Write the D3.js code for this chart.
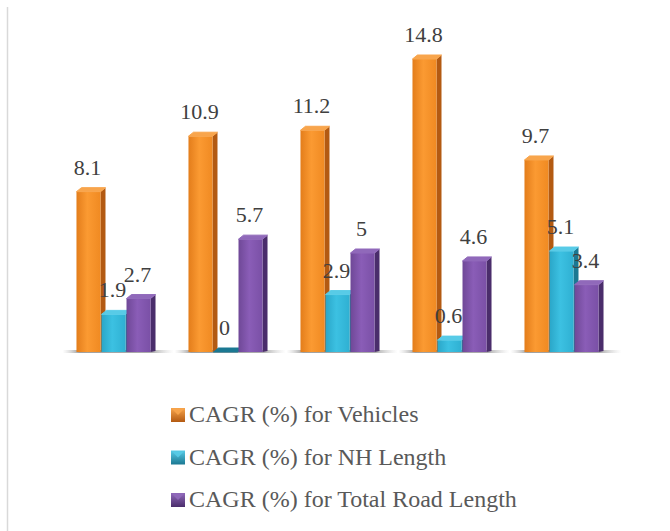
<!DOCTYPE html>
<html>
<head>
<meta charset="utf-8">
<script src="https://cdn.jsdelivr.net/npm/d3@7/dist/d3.min.js"></script>
<style>
  body { margin: 0; background: #fff; }
  svg { display: block; }
</style>
</head>
<body>
<div class="content"></div>
<script>
// chart values (categories are not labelled in the original)
var categories = ["G1", "G2", "G3", "G4", "G5"];
var seriesNames = ["CAGR (%) for Vehicles", "CAGR (%) for NH Length", "CAGR (%) for Total Road Length"];
var vehicles = [8.1, 10.9, 11.2, 14.8, 9.7];
var nhLength = [1.9, 0, 2.9, 0.6, 5.1];
var roadLength = [2.7, 5.7, 5, 4.6, 3.4];

var seriesValues = [vehicles, nhLength, roadLength];

// colours per series: front light / front mid / side / top
var palette = [
    {front: ["#e37d1b", "#fb9a32", "#f08a22"], side: "#b35a12", top: "#f8a54c"},
    {front: ["#2aa6c8", "#3cc1e2", "#2fb0d2"], side: "#1b7892", top: "#58cbe7"},
    {front: ["#6f4897", "#8a5db7", "#7a50a6"], side: "#4a2d6b", top: "#9069ba"}
];

var width = 670, height = 531;
var baseline = 352;
var depth = 5, rise = 4;

var svg = d3.select(".content")
    .append("svg")
    .attr("width", width)
    .attr("height", height);

var defs = svg.append("defs");

palette.forEach(function(p, i) {
    var g = defs.append("linearGradient")
        .attr("id", "front" + i)
        .attr("x1", "0").attr("x2", "1").attr("y1", "0").attr("y2", "0");
    g.append("stop").attr("offset", "0%").attr("stop-color", p.front[0]);
    g.append("stop").attr("offset", "45%").attr("stop-color", p.front[1]);
    g.append("stop").attr("offset", "100%").attr("stop-color", p.front[2]);

    var lg = defs.append("linearGradient")
        .attr("id", "leg" + i)
        .attr("x1", "0").attr("x2", "0").attr("y1", "0").attr("y2", "1");
    lg.append("stop").attr("offset", "0%").attr("stop-color", p.top);
    lg.append("stop").attr("offset", "100%").attr("stop-color", p.side);
});

var shadow = defs.append("linearGradient")
    .attr("id", "floor")
    .attr("x1", "0").attr("x2", "1").attr("y1", "0").attr("y2", "0");
shadow.append("stop").attr("offset", "0%").attr("stop-color", "#bbb").attr("stop-opacity", 0);
shadow.append("stop").attr("offset", "15%").attr("stop-color", "#888").attr("stop-opacity", 0.8);
shadow.append("stop").attr("offset", "80%").attr("stop-color", "#888").attr("stop-opacity", 0.7);
shadow.append("stop").attr("offset", "100%").attr("stop-color", "#bbb").attr("stop-opacity", 0);

// left border line of the chart area
svg.append("line")
    .attr("x1", 7.5).attr("x2", 7.5)
    .attr("y1", 7).attr("y2", height)
    .attr("stroke", "#d9d9d9")
    .attr("stroke-width", 1.5);

// scales
var x0 = d3.scaleBand()
    .domain(categories)
    .range([58, 618])
    .paddingInner(0.33)
    .paddingOuter(0.165);

var x1 = d3.scaleBand()
    .domain(d3.range(seriesNames.length))
    .range([0, x0.bandwidth()]);

var y = d3.scaleLinear()
    .domain([0, 14.8])
    .range([baseline, 59]);

var frontW = x1.bandwidth() - 1;

// floor shadow under each group
svg.append("g")
    .selectAll("rect")
    .data(categories)
    .enter()
    .append("rect")
    .attr("x", function(d) { return x0(d) - 14; })
    .attr("y", baseline - 2)
    .attr("width", x0.bandwidth() + 36)
    .attr("height", 3)
    .attr("fill", "url(#floor)");

// bars
var groups = svg.append("g")
    .selectAll("g")
    .data(categories)
    .enter()
    .append("g")
    .attr("transform", function(d) { return "translate(" + x0(d) + ",0)"; });

groups.each(function(cat, ci) {
    var g = d3.select(this);
    seriesValues.forEach(function(vals, si) {
        var v = vals[ci];
        var bx = x1(si);
        var top = y(v);
        var bar = g.append("g");

        // side face
        bar.append("path")
            .attr("d", "M" + (bx + frontW) + "," + top +
                " L" + (bx + frontW + depth) + "," + (top - rise) +
                " L" + (bx + frontW + depth) + "," + (baseline - 1) +
                " L" + (bx + frontW) + "," + baseline + " Z")
            .attr("fill", palette[si].side);

        // front face
        bar.append("rect")
            .attr("x", bx)
            .attr("y", top)
            .attr("width", frontW)
            .attr("height", baseline - top)
            .attr("fill", "url(#front" + si + ")");

        // top face
        bar.append("path")
            .attr("d", "M" + bx + "," + top +
                " L" + (bx + depth) + "," + (top - rise) +
                " L" + (bx + frontW + depth) + "," + (top - rise) +
                " L" + (bx + frontW) + "," + top + " Z")
            .attr("fill", v === 0 ? palette[si].side : palette[si].top)
            .attr("stroke", v === 0 ? palette[si].side : palette[si].top)
            .attr("stroke-linejoin", "round")
            .attr("stroke-width", 1);

        // value label
        g.append("text")
            .attr("x", bx + frontW / 2 - 1)
            .attr("y", top - 17)
            .attr("text-anchor", "middle")
            .attr("font-family", "'Liberation Serif', 'DejaVu Serif', serif")
            .attr("font-size", 22)
            .attr("fill", "#404040")
            .text(v);
    });
});

// legend
var legend = svg.append("g")
    .selectAll("g")
    .data(seriesNames)
    .enter()
    .append("g")
    .attr("transform", function(d, i) { return "translate(171," + (422 + i * 42.5) + ")"; });

legend.append("rect")
    .attr("x", 0)
    .attr("y", -14)
    .attr("width", 14)
    .attr("height", 14)
    .attr("fill", function(d, i) { return "url(#leg" + i + ")"; });

legend.append("path")
    .attr("d", "M1,-13 L13,-13 L7,-7 Z")
    .attr("fill", function(d, i) { return palette[i].top; })
    .attr("opacity", 0.9);

legend.append("text")
    .attr("x", 18)
    .attr("y", 0)
    .attr("font-family", "'Liberation Serif', 'DejaVu Serif', serif")
    .attr("font-size", 24)
    .attr("fill", "#595959")
    .text(function(d) { return d; });
</script>
</body>
</html>
